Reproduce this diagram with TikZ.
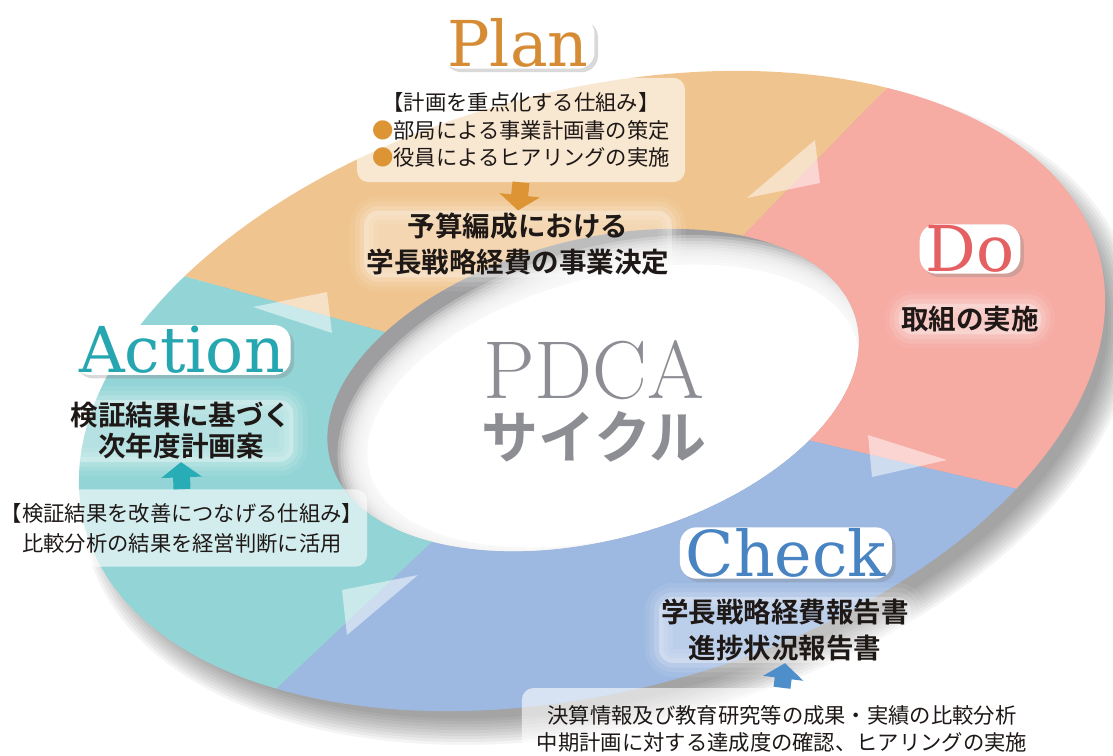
\documentclass[tikz,border=0pt]{standalone}
\usepackage{fontspec}
\newfontfamily\jp{Noto Sans CJK JP}[BoldFont={Noto Sans CJK JP Bold}]
\newfontfamily\headfont{DejaVu Serif}
\usetikzlibrary{arrows.meta,positioning,shadows}

\definecolor{plancol}{RGB}{239,196,142}
\definecolor{docol}{RGB}{246,171,163}
\definecolor{checkcol}{RGB}{157,185,225}
\definecolor{actcol}{RGB}{147,212,214}
\definecolor{plantxt}{RGB}{214,140,52}
\definecolor{dotxt}{RGB}{228,96,98}
\definecolor{checktxt}{RGB}{72,132,194}
\definecolor{acttxt}{RGB}{38,166,176}
\definecolor{planarr}{RGB}{221,148,52}
\definecolor{checkarr}{RGB}{78,142,202}
\definecolor{actarr}{RGB}{40,172,182}
\definecolor{pdcagray}{RGB}{140,142,148}
\definecolor{holegray}{RGB}{158,158,160}
\definecolor{ink}{RGB}{30,24,22}

\tikzset{
  headbox/.style={font=\headfont\fontsize{54}{54}\selectfont, fill=white, rounded corners=14pt,
    inner xsep=5pt, inner ysep=1pt,
    drop shadow={opacity=0.3, shadow xshift=3pt, shadow yshift=-3pt}},
  boldtxt/.style={font=\jp\bfseries\fontsize{23.5}{30.5}\selectfont, text=ink, align=center,
    rounded corners=12pt, inner sep=2pt,
    preaction={draw=white, draw opacity=0.07, line width=24pt},
    preaction={draw=white, draw opacity=0.1, line width=16pt},
    preaction={draw=white, draw opacity=0.15, line width=8pt},
    fill=white, fill opacity=0.32, text opacity=1},
  notebox/.style={fill=white, fill opacity=0.6, text opacity=1, rounded corners=10pt,
    font=\jp\fontsize{18.2}{23.5}\selectfont, text=ink, align=center},
  bigarrow/.style={line width=14.5pt, -{Triangle[width=34pt,length=13pt]}},
  turntri/.style={fill=white, fill opacity=0.5},
}

\begin{document}
\begin{tikzpicture}[x=0.03cm,y=-0.03cm]
\useasboundingbox (0,0) rectangle (1113,756);

% shadow under the ring
\foreach \i in {0,...,9}
  \fill[black, opacity=0.045, rotate around={15:(608,411)}] (608,411)
    ellipse [x radius={539-3*\i}, y radius={314-3*\i}];

% the four segments
\begin{scope}
  \clip[rotate around={15:(592,391)}] (592,391) ellipse [x radius=525, y radius=300];
  \fill[plancol] (593,390) -- (-219,164) -- (-219,-400) -- (1177,-400) -- (1177,-210) -- cycle;
  \fill[docol] (593,390) -- (1177,-210) -- (1500,-400) -- (1500,586) -- (1433,586) -- cycle;
  \fill[checkcol] (593,390) -- (1433,586) -- (1500,586) -- (1500,1200) -- (-37,1200) -- (-37,984) -- cycle;
  \fill[actcol] (593,390) -- (-37,984) -- (-400,984) -- (-400,164) -- (-219,164) -- cycle;
\end{scope}

% hole with its inner shadow
\begin{scope}
  \clip[rotate around={15:(593,390)}] (593,390) ellipse [x radius=272, y radius=150];
  \fill[holegray] (300,200) rectangle (900,600);
  \foreach \i in {0,...,9}
    \fill[white, opacity=0.25, rotate around={15:(613,406)}] (613,406)
      ellipse [x radius={282-3*\i}, y radius={160-3*\i}];
  \fill[white, rotate around={15:(613,406)}] (613,406) ellipse [x radius=252, y radius=130];
\end{scope}

\fill[turntri] (747,198) -- (815,140) -- (820,183) -- cycle;
\fill[turntri] (868,435) -- (947,460) -- (872,477) -- cycle;
\fill[turntri] (342,590) -- (418,575) -- (347,635) -- cycle;
\fill[turntri] (253,307) -- (327,292) -- (332,333) -- cycle;

\node[font=\fontsize{70}{70}\selectfont, text=pdcagray] (pdca) at (594,370) {PDCA};
\node[font=\jp\bfseries\fontsize{48.6}{48.6}\selectfont, text=pdcagray] (cycle) at (594,437) {サイクル};

% Plan
\node[notebox, minimum width=280pt, minimum height=89pt] (planbox) at (521,130)
  {【計画を重点化する仕組み】\\{\color{planarr}●}部局による事業計画書の策定\\{\color{planarr}●}役員によるヒアリングの実施};
\node[headbox, text=plantxt] (plantitle) at (518,43) {Plan};
\node[boldtxt] (planres) at (518,244) {予算編成における\\学長戦略経費の事業決定};
\draw[bigarrow, planarr] (planbox.south) -- (planres.north);

% Do
\node[headbox, text=dotxt] (dotitle) at (970,249) {Do};
\node[boldtxt] (dores) at (970,319) {取組の実施};

% Check
\node[notebox, minimum width=444pt, minimum height=70pt, font=\jp\fontsize{18.2}{23}\selectfont] (checkbox) at (782,729)
  {決算情報及び教育研究等の成果・実績の比較分析\\中期計画に対する達成度の確認、ヒアリングの実施};
\node[headbox, text=checktxt] (checktitle) at (786,553) {Check};
\node[boldtxt, font=\jp\bfseries\fontsize{23.5}{30}\selectfont] (checkres) at (785,630) {学長戦略経費報告書\\進捗状況報告書};
\draw[bigarrow, checkarr] (checkbox.north) -- (checkres.south);

% Action
\node[notebox, minimum width=311pt, minimum height=66pt, font=\jp\fontsize{18.2}{25.5}\selectfont] (actbox) at (182,528)
  {【検証結果を改善につなげる仕組み】\\比較分析の結果を経営判断に活用};
\node[headbox, text=acttxt] (acttitle) at (182,350) {Action};
\node[boldtxt, font=\jp\bfseries\fontsize{23.5}{26.5}\selectfont] (actres) at (181,431) {検証結果に基づく\\次年度計画案};
\draw[bigarrow, actarr] (actbox.north) -- (actres.south);
\end{tikzpicture}
\end{document}
